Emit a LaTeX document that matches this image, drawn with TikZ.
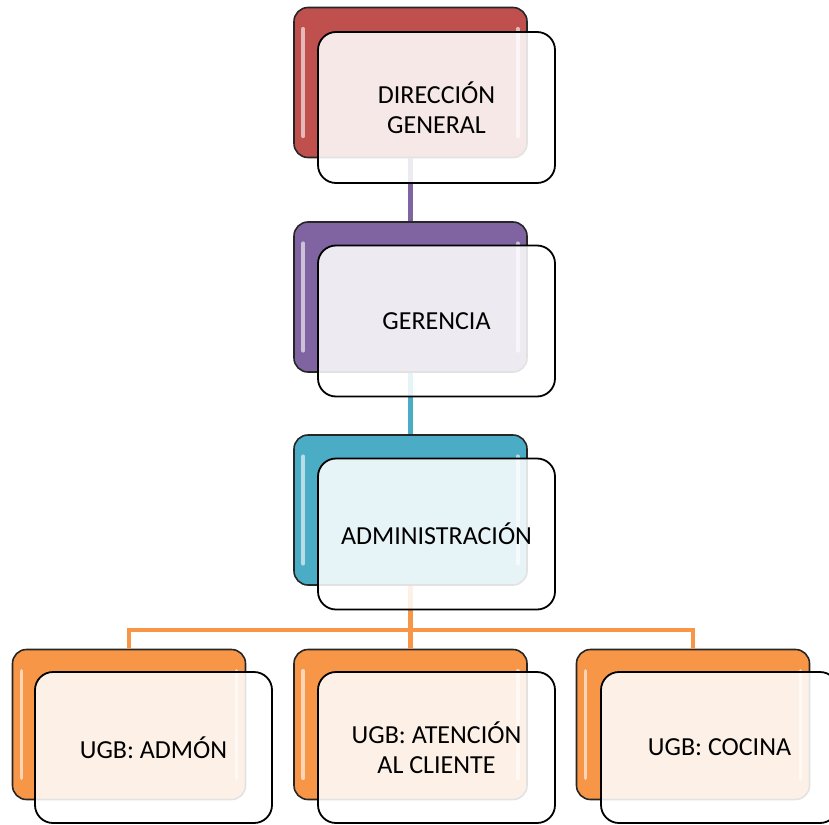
\documentclass[tikz,border=0pt]{standalone}
\usepackage{fontspec}
\setmainfont{Carlito}
\usetikzlibrary{calc}
\definecolor{cred}{HTML}{C0504D}
\definecolor{cpurple}{HTML}{8064A2}
\definecolor{cteal}{HTML}{4BACC6}
\definecolor{corange}{HTML}{F79646}
\tikzset{
  backbox/.style={draw=black!85, line width=1.6pt, rounded corners=14pt, minimum width=233pt, minimum height=150pt, inner sep=0pt},
  frontbox/.style={draw=black, line width=1.8pt, rounded corners=18pt, minimum width=237pt, minimum height=151pt, fill=white, fill opacity=0.87, text opacity=1, align=center, font=\fontsize{26}{30}\selectfont, inner sep=0pt},
  conn/.style={line width=4.5pt},
  gloss/.style={white, opacity=0.6, line width=3.5pt, line cap=round}
}
\begin{document}
\begin{tikzpicture}[x=1pt,y=-1pt]
\useasboundingbox (0,0) rectangle (829,824);
% back boxes
\node[backbox, fill=cred] (b1) at (410.5,82.5) {};
\node[backbox, fill=cpurple] (b2) at (410.5,297) {};
\node[backbox, fill=cteal] (b3) at (410.5,510) {};
\node[backbox, fill=corange] (b4) at (129,724.5) {};
\node[backbox, fill=corange] (b5) at (410.5,724.5) {};
\node[backbox, fill=corange] (b6) at (693,724.5) {};
% gloss highlights
\foreach \b in {b1,b2,b3,b4,b5,b6}{
  \draw[gloss] ($(\b.north west)+(10,22)$) -- ($(\b.south west)+(10,-22)$);
  \draw[gloss] ($(\b.north east)+(-10,22)$) -- ($(\b.south east)+(-10,-22)$);
}
% connectors
\draw[conn, cpurple] (b1.south) -- (b2.north);
\draw[conn, cteal] (b2.south) -- (b3.north);
\coordinate (hj) at (410.5,630);
\draw[conn, corange] (b3.south) -- (b5.north);
\draw[conn, corange] (b4.north) |- (hj) -| (b6.north);
% front boxes
\node[frontbox] (f1) at (436.5,107.5) {DIRECCIÓN\\GENERAL};
\node[frontbox] (f2) at (436.5,321) {GERENCIA};
\node[frontbox] (f3) at (436.5,534) {ADMINISTRACIÓN};
\node[frontbox] (f4) at (153.5,747.5) {UGB: ADMÓN};
\node[frontbox] (f5) at (436.5,747.5) {UGB: ATENCIÓN\\AL CLIENTE};
\node[frontbox] (f6) at (719.5,747.5) {UGB: COCINA};
\end{tikzpicture}
\end{document}
